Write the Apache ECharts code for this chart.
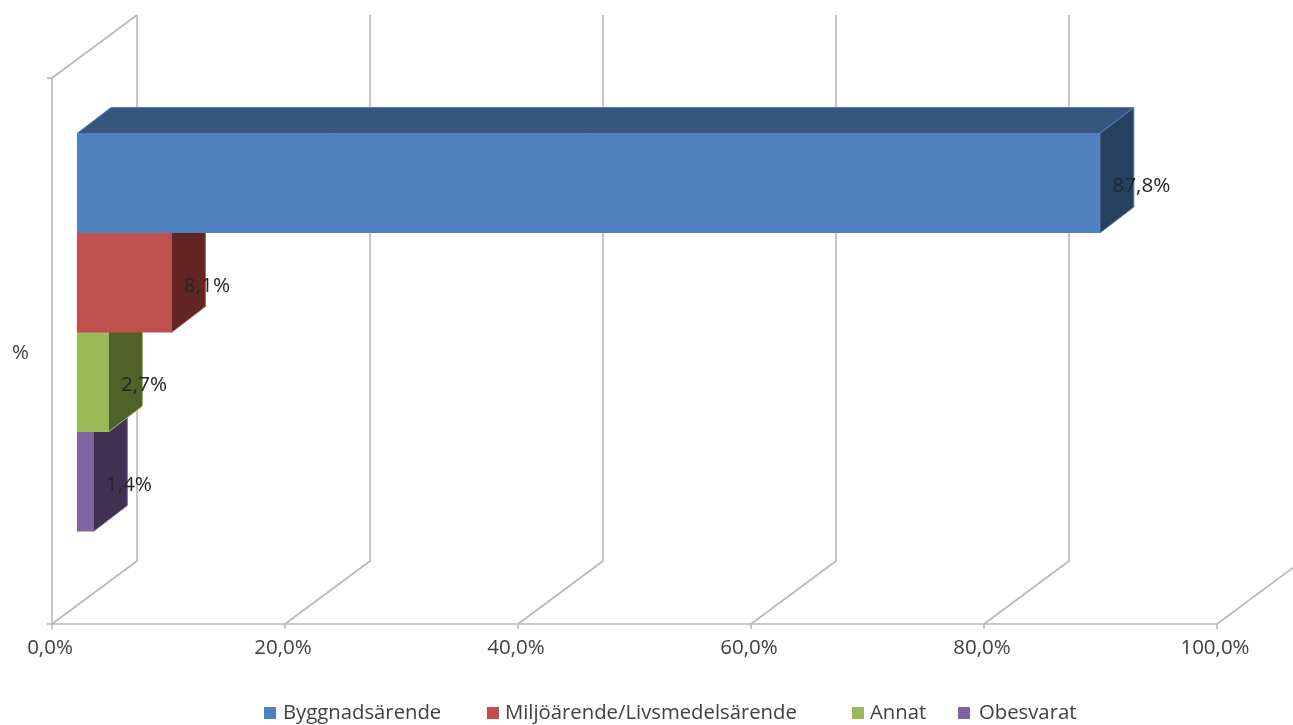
<!DOCTYPE html>
<html>
<head>
<meta charset="utf-8">
<style>html,body{margin:0;padding:0;background:#fff}#chart{width:1293px;height:725px}</style>
<script src="https://cdn.jsdelivr.net/npm/echarts@6/dist/echarts.min.js"></script>
</head>
<body>
<div id="chart"></div>
<script>
// Ärendetyper, andel i procent
const categories = ['%'];
const seriesNames = ['Byggnadsärende', 'Miljöärende/Livsmedelsärende', 'Annat', 'Obesvarat'];
const seriesValues = [87.8, 8.1, 2.7, 1.4];
const xTicks = [0, 20, 40, 60, 80, 100];

const frontColors = ['#4f81bd', '#c0504d', '#9bbb59', '#8064a2'];
const sideColors = ['#264060', '#632523', '#4f6228', '#403152'];
const topColors = ['#34567f', '#7d3230', '#657b3a', '#54426b'];
const legendLefts = [264, 487, 852, 958];
const legendTextGaps = [2, 1, 1, 4];

// Oblique projection of the 3D chart box
const WALL_DX = 85, WALL_DY = -63;
const BAR_DX = 25, BAR_DY = -18.5;
const DEPTH_DX = 34, DEPTH_DY = -26;
const CLUSTER_SHARE = 0.729;

const fontFamily = '"Open Sans", sans-serif';
const axisGrey = '#b8b8b8';
const axisWidth = 1.6;
const fmt = v => v.toFixed(1).replace('.', ',') + '%';

function renderWall(params, api) {
  const value = api.value(0);
  const base = api.coord([value, categories[0]]);
  const bandH = api.size([0, 1])[1];
  const y0 = base[1] + bandH / 2, yTop = base[1] - bandH / 2;
  const x0 = base[0];
  const style = { stroke: axisGrey, lineWidth: axisWidth, fill: null };
  const children = [
    { type: 'polyline', shape: { points: [[x0, y0], [x0 + WALL_DX, y0 + WALL_DY], [x0 + WALL_DX, yTop + WALL_DY]] }, style }
  ];
  if (value === 0) {
    children.push({ type: 'line', shape: { x1: x0, y1: yTop, x2: x0 + WALL_DX, y2: yTop + WALL_DY }, style });
  }
  return { type: 'group', children };
}

function makeBarRenderer(i) {
  return function (params, api) {
    const value = api.value(0);
    const c0 = api.coord([0, categories[0]]);
    const c1 = api.coord([value, categories[0]]);
    const bandH = api.size([0, 1])[1];
    const barH = bandH * CLUSTER_SHARE / seriesValues.length;
    const x0 = c0[0] + BAR_DX;
    const x1 = c1[0] + BAR_DX;
    const yT = c0[1] + BAR_DY - barH * seriesValues.length / 2 + barH * i;
    const yB = yT + barH;
    const edge = { stroke: frontColors[i], lineWidth: 1 };
    return {
      type: 'group',
      children: [
        { type: 'polygon', shape: { points: [[x0, yT], [x1, yT], [x1 + DEPTH_DX, yT + DEPTH_DY], [x0 + DEPTH_DX, yT + DEPTH_DY]] },
          style: { fill: topColors[i], ...edge } },
        { type: 'polygon', shape: { points: [[x1, yT], [x1 + DEPTH_DX, yT + DEPTH_DY], [x1 + DEPTH_DX, yB + DEPTH_DY], [x1, yB]] },
          style: { fill: sideColors[i], ...edge } },
        { type: 'rect', shape: { x: x0, y: yT, width: x1 - x0, height: barH },
          style: { fill: frontColors[i] } },
        { type: 'text', z2: 10, x: x1 + 12.5, y: (yT + yB) / 2 + 3.3,
          style: { text: fmt(value), fill: '#262626', font: '20.7px ' + fontFamily, align: 'left', verticalAlign: 'middle' } }
      ]
    };
  };
}

const series = [{
  type: 'custom',
  name: 'wall',
  z: 1,
  silent: true,
  data: xTicks.map(t => [t, categories[0]]),
  encode: { x: 0, y: 1 },
  renderItem: renderWall
}];
seriesNames.forEach((name, i) => {
  series.push({
    type: 'custom',
    name,
    z: 10 - i,
    itemStyle: { color: frontColors[i] },
    data: [[seriesValues[i], categories[0]]],
    encode: { x: 0, y: 1 },
    renderItem: makeBarRenderer(i)
  });
});

const chart = echarts.init(document.getElementById('chart'), null, { renderer: 'canvas' });
chart.setOption({
  animation: false,
  backgroundColor: '#ffffff',
  grid: { left: 52, right: 76, top: 78, height: 546 },
  legend: seriesNames.map((name, i) => ({
    data: [name],
    left: legendLefts[i],
    top: 703,
    padding: 0,
    icon: 'rect',
    itemWidth: 12,
    itemHeight: 12,
    selectedMode: false,
    textStyle: { fontFamily, fontSize: 20.3, color: '#404040', padding: [0, 0, 0, legendTextGaps[i]] }
  })),
  xAxis: {
    type: 'value',
    min: 0,
    max: 100,
    interval: 20,
    splitLine: { show: false },
    axisLine: { show: true, lineStyle: { color: axisGrey, width: axisWidth } },
    axisTick: { show: true, length: 5, lineStyle: { color: axisGrey, width: axisWidth } },
    axisLabel: { formatter: fmt, fontFamily, fontSize: 20.5, color: '#404040', margin: 14, padding: [0, 4, 0, 0] }
  },
  yAxis: {
    type: 'category',
    data: categories,
    axisLine: { show: true, lineStyle: { color: axisGrey, width: axisWidth } },
    axisTick: { show: true, length: 5, lineStyle: { color: axisGrey, width: axisWidth } },
    axisLabel: { fontFamily, fontSize: 20.5, color: '#404040', margin: 23, verticalAlign: 'top', padding: [-8, 0, 0, 0] }
  },
  series
});
</script>
</body>
</html>
